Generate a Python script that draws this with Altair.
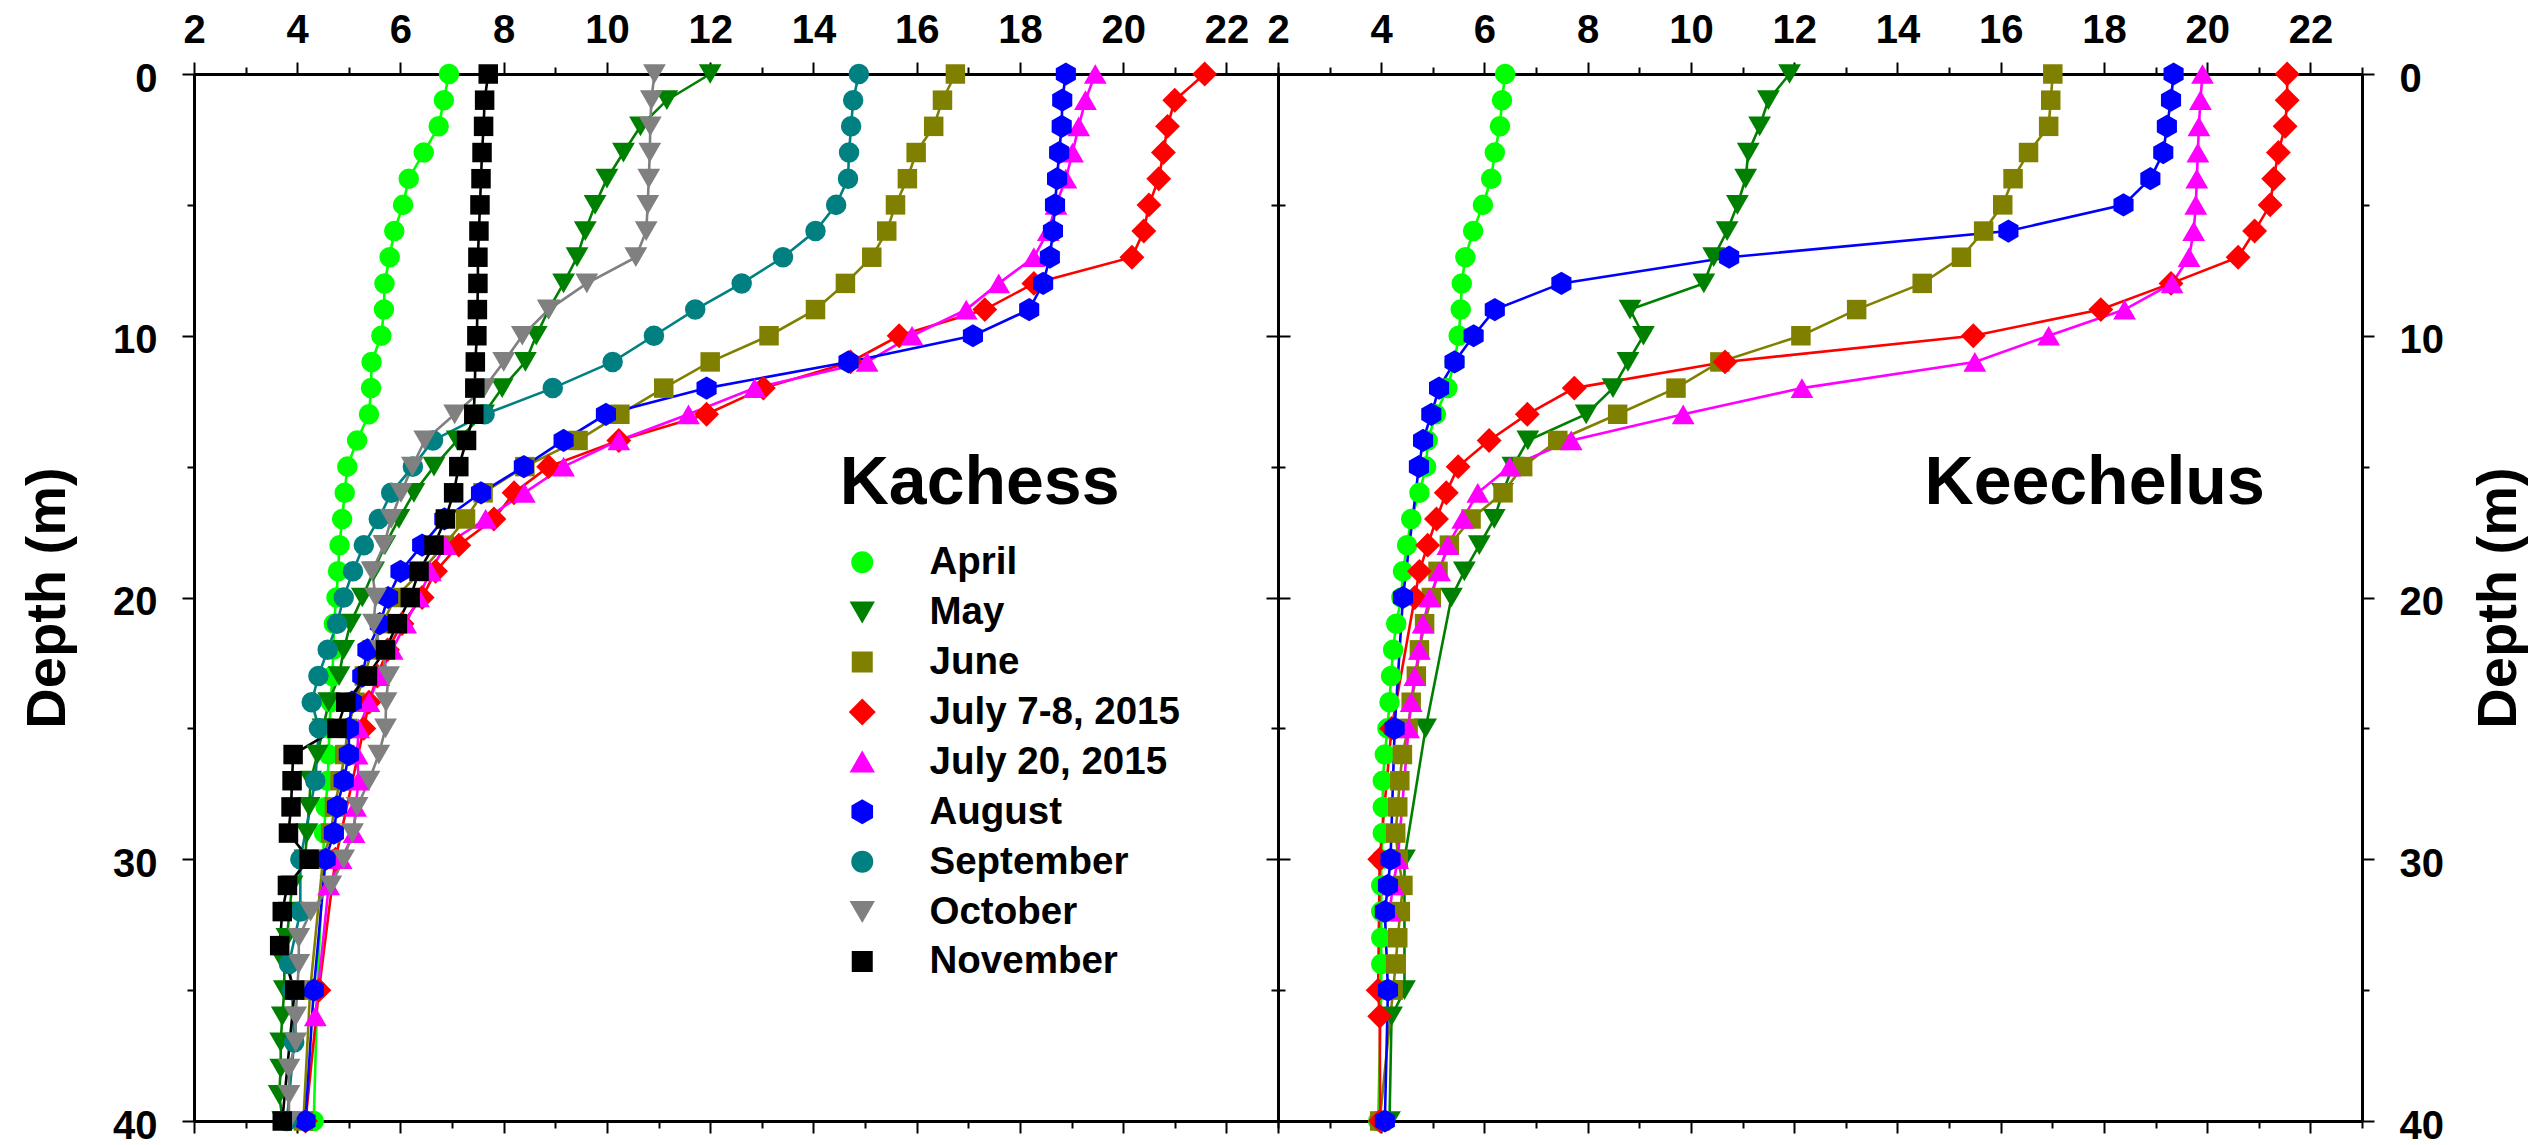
import altair as alt
import pandas as pd

FONT = "Liberation Sans"

SERIES = ["April", "May", "June", "July 7-8, 2015", "July 20, 2015",
          "August", "September", "October", "November"]
COLORS = ["#00ff00", "#008000", "#808000", "#ff0000", "#ff00ff",
          "#0000ff", "#008080", "#808080", "#000000"]
HEX = "M0,-1L0.866,-0.5L0.866,0.5L0,1L-0.866,0.5L-0.866,-0.5Z"
SHAPES = ["circle", "triangle-down", "square", "diamond", "triangle-up",
          HEX, "circle", "triangle-down", "square"]
SIZES = [420, 520, 380, 620, 520, 540, 420, 520, 380]

# ---------------- Kachess ----------------
KA_APR_D = list(range(0, 31)) + [35, 40]
KA_APR_T = [6.94, 6.84, 6.74, 6.45, 6.16, 6.05, 5.88, 5.79, 5.69, 5.68,
            5.63, 5.44, 5.43, 5.39, 5.16, 4.97, 4.92, 4.87, 4.82, 4.79,
            4.76, 4.71, 4.70, 4.68, 4.65, 4.62, 4.61, 4.59, 4.55, 4.52,
            4.50, 4.39, 4.32]
KA_MAY_D = list(range(0, 41))
KA_MAY_T = [12.0, 11.16, 10.65, 10.32, 10.0, 9.77, 9.58, 9.42, 9.16, 8.87,
            8.63, 8.42, 7.97, 7.61, 7.10, 6.65, 6.26, 5.97, 5.70, 5.48,
            5.26, 5.03, 4.90, 4.81, 4.61, 4.50, 4.39, 4.26, 4.23, 4.19,
            4.15, 3.90, 3.85, 3.80, 3.75, 3.75, 3.71, 3.68, 3.68, 3.65,
            3.72]
KA_JUN_D = list(range(0, 31)) + [35, 40]
KA_JUN_T = [16.75, 16.50, 16.33, 15.99, 15.82, 15.59, 15.42, 15.13, 14.62, 14.04,
            13.14, 12.00, 11.10, 10.25, 9.44, 8.41, 7.60, 7.26, 6.85, 6.40,
            5.90, 5.65, 5.45, 5.30, 5.12, 4.98, 4.92, 4.83, 4.72, 4.65,
            4.50, 4.25, 4.12]
KA_JL8_D = list(range(0, 26)) + [30, 35, 40]
KA_JL8_T = [21.58, 21.00, 20.86, 20.78, 20.69, 20.50, 20.40, 20.17, 18.27, 17.32,
            15.66, 14.72, 13.03, 11.93, 10.23, 8.87, 8.20, 7.81, 7.13, 6.68,
            6.42, 6.03, 5.75, 5.55, 5.39, 5.29,
            4.74, 4.42, 4.16]
KA_JL20_D = list(range(0, 32)) + [36]
KA_JL20_T = [19.46, 19.27, 19.14, 19.02, 18.89, 18.70, 18.55, 18.27, 17.59, 16.96,
             15.91, 15.04, 12.86, 11.58, 10.23, 9.16, 8.40, 7.65, 6.87, 6.58,
             6.35, 6.10, 5.84, 5.58, 5.39, 5.19, 5.16, 5.19, 5.13, 5.10,
             4.85, 4.61, 4.35]
KA_AUG_D = list(range(0, 31)) + [35, 40]
KA_AUG_T = [18.89, 18.82, 18.81, 18.76, 18.72, 18.68, 18.64, 18.58, 18.45, 18.18,
            17.09, 14.68, 11.93, 9.98, 9.16, 8.39, 7.56, 6.85, 6.42, 6.00,
            5.76, 5.60, 5.36, 5.26, 5.06, 5.00, 5.00, 4.90, 4.77, 4.71,
            4.55, 4.32, 4.16]
KA_SEP_D = list(range(0, 26)) + [27, 30, 32, 34, 35, 37, 40]
KA_SEP_T = [14.88, 14.77, 14.73, 14.69, 14.67, 14.44, 14.04, 13.41, 12.61, 11.71,
            10.91, 10.11, 8.95, 7.63, 6.63, 6.24, 5.82, 5.58, 5.29, 5.08,
            4.90, 4.77, 4.59, 4.41, 4.28, 4.42,
            4.35, 4.06, 4.06, 3.84, 3.90, 3.94, 3.80]
KA_OCT_D = list(range(0, 41))
KA_OCT_T = [10.92, 10.86, 10.84, 10.83, 10.81, 10.79, 10.76, 10.56, 9.61, 8.87,
            8.36, 8.00, 7.62, 7.05, 6.47, 6.23, 6.01, 5.82, 5.68, 5.45,
            5.52, 5.48, 5.62, 5.77, 5.72, 5.71, 5.58, 5.39, 5.16, 5.07,
            4.90, 4.65, 4.26, 4.03, 4.03, 4.00, 3.97, 3.97, 3.84, 3.84,
            3.84]
KA_NOV_D = list(range(0, 33)) + [33.3, 35, 40]
KA_NOV_T = [7.70, 7.63, 7.61, 7.58, 7.56, 7.54, 7.52, 7.50, 7.50, 7.49,
            7.48, 7.45, 7.44, 7.42, 7.28, 7.13, 7.03, 6.87, 6.65, 6.36,
            6.19, 5.94, 5.71, 5.36, 4.94, 4.77, 3.92, 3.90, 3.88, 3.83,
            4.23, 3.81, 3.71, 3.66, 3.95, 3.71]

# ---------------- Keechelus ----------------
KE_APR_D = list(range(0, 36)) + [40]
KE_APR_T = [6.40, 6.34, 6.30, 6.20, 6.13, 5.97, 5.78, 5.63, 5.56, 5.54,
            5.50, 5.42, 5.28, 5.06, 4.90, 4.87, 4.74, 4.58, 4.50, 4.42,
            4.39, 4.29, 4.23, 4.19, 4.16, 4.12, 4.07, 4.03, 4.03, 4.03,
            4.00, 4.00, 4.00, 4.00, 4.00, 4.00, 3.94]
KE_MAY_D = list(range(0, 21)) + [25, 30, 35, 36, 40]
KE_MAY_T = [11.91, 11.50, 11.33, 11.11, 11.06, 10.90, 10.70, 10.44, 10.25, 8.82,
            9.08, 8.78, 8.49, 7.97, 6.84, 6.55, 6.35, 6.19, 5.90, 5.61,
            5.36, 4.86, 4.45, 4.45, 4.20, 4.16]
KE_JUN_D = list(range(0, 36)) + [40]
KE_JUN_T = [17.01, 16.97, 16.93, 16.54, 16.24, 16.04, 15.67, 15.24, 14.48, 13.21,
            12.13, 10.56, 9.71, 8.58, 7.42, 6.74, 6.36, 5.74, 5.32, 5.10,
            4.97, 4.84, 4.74, 4.68, 4.58, 4.52, 4.41, 4.36, 4.32, 4.28,
            4.33, 4.42, 4.37, 4.32, 4.28, 4.23, 3.97]
KE_JL8_D = list(range(0, 21)) + [25, 30, 35, 36, 40]
KE_JL8_T = [21.55, 21.55, 21.51, 21.38, 21.29, 21.22, 20.92, 20.60, 19.30, 17.94,
            15.47, 10.66, 7.74, 6.83, 6.09, 5.49, 5.26, 5.07, 4.90, 4.74,
            4.65, 4.20, 3.97, 3.94, 3.97, 3.98]
KE_JL20_D = list(range(0, 26)) + [30, 31, 32]
KE_JL20_T = [19.91, 19.87, 19.84, 19.82, 19.80, 19.78, 19.74, 19.65, 19.32, 18.40,
             16.93, 15.50, 12.15, 9.85, 7.68, 6.49, 5.87, 5.58, 5.29, 5.13,
             4.94, 4.81, 4.74, 4.65, 4.58, 4.53, 4.32, 4.23, 4.16]
KE_AUG_D = list(range(0, 16)) + [20, 25, 30, 31, 32, 35, 40]
KE_AUG_T = [19.35, 19.30, 19.22, 19.15, 18.90, 18.38, 16.15, 10.74, 7.49, 6.20,
            5.79, 5.42, 5.12, 4.97, 4.81, 4.73,
            4.42, 4.26, 4.18, 4.13, 4.07, 4.13, 4.07]

KACHESS = [("April", KA_APR_D, KA_APR_T), ("May", KA_MAY_D, KA_MAY_T),
           ("June", KA_JUN_D, KA_JUN_T), ("July 7-8, 2015", KA_JL8_D, KA_JL8_T),
           ("July 20, 2015", KA_JL20_D, KA_JL20_T), ("August", KA_AUG_D, KA_AUG_T),
           ("September", KA_SEP_D, KA_SEP_T), ("October", KA_OCT_D, KA_OCT_T),
           ("November", KA_NOV_D, KA_NOV_T)]
KEECHELUS = [("April", KE_APR_D, KE_APR_T), ("May", KE_MAY_D, KE_MAY_T),
             ("June", KE_JUN_D, KE_JUN_T), ("July 7-8, 2015", KE_JL8_D, KE_JL8_T),
             ("July 20, 2015", KE_JL20_D, KE_JL20_T), ("August", KE_AUG_D, KE_AUG_T)]


def build(series_list):
    rows = []
    for name, ds, ts in series_list:
        for i, (d, t) in enumerate(zip(ds, ts)):
            rows.append({"series": name, "depth": d, "temp": t, "idx": i})
    return pd.DataFrame(rows)


W, H = 1084, 1047
XS = alt.Scale(domain=[2, 23], nice=False, zero=False)
YS = alt.Scale(domain=[0, 40], reverse=True, nice=False, zero=False)
X_VALUES = list(range(2, 24))
Y_VALUES = list(range(0, 41, 5))
X_TICK = {"condition": {"test": "datum.value % 2 === 0", "value": 12}, "value": 7}
Y_TICK = {"condition": {"test": "datum.value % 10 === 0", "value": 12}, "value": 7}

COMMON = dict(grid=False, domainWidth=3, tickWidth=2, labelFlush=False,
              labelOverlap=False, labelFont=FONT, labelFontSize=40,
              labelFontWeight="bold", titleFont=FONT, titleFontWeight="bold")


def x_top():
    return alt.Axis(orient="top", values=X_VALUES, tickSize=X_TICK,
                    labelExpr="datum.value % 2 === 0 ? datum.label : ''",
                    labelPadding=12, title=None, **COMMON)


def x_bottom():
    return alt.Axis(orient="bottom", values=X_VALUES, tickSize=X_TICK,
                    labels=False, title=None, **COMMON)


def y_axis(orient, labelled):
    if labelled:
        extra = dict(title="Depth (m)", titleFontSize=56)
        if orient == "right":
            extra.update(titleAngle=270, titleBaseline="top", titlePadding=28)
        else:
            extra.update(titlePadding=36)
        return alt.Axis(orient=orient, values=Y_VALUES, tickSize=Y_TICK,
                        labelExpr="datum.value % 10 === 0 ? datum.label : ''",
                        labelPadding=25, labelOffset=5, **extra, **COMMON)
    return alt.Axis(orient=orient, values=Y_VALUES, tickSize=Y_TICK,
                    labels=False, title=None, **COMMON)


LEGEND = alt.Legend(title=None, orient="none", legendX=649, legendY=469,
                    labelFont=FONT, labelFontSize=38.5, labelFontWeight="bold",
                    labelColor="black", labelOffset=48, rowPadding=10.9,
                    padding=0, labelLimit=600, symbolOpacity=1)

CSCALE = alt.Scale(domain=SERIES, range=COLORS)
SSCALE = alt.Scale(domain=SERIES, range=SHAPES)
ZSCALE = alt.Scale(type="ordinal", domain=SERIES, range=SIZES)


def panel(series_list, lake, lx, ly, left_labels, show_legend):
    df = build(series_list)
    base = alt.Chart(df)
    leg = LEGEND if show_legend else None
    lines = base.mark_line(strokeWidth=2.6).encode(
        x=alt.X("temp:Q", scale=XS, axis=x_top()),
        y=alt.Y("depth:Q", scale=YS, axis=y_axis("left", left_labels)),
        color=alt.Color("series:N", scale=CSCALE, legend=leg),
        order=alt.Order("idx:Q"),
    )
    pts = base.mark_point(filled=True, opacity=1, strokeWidth=0).encode(
        x=alt.X("temp:Q", scale=XS, axis=x_bottom()),
        y=alt.Y("depth:Q", scale=YS, axis=y_axis("right", not left_labels)),
        color=alt.Color("series:N", scale=CSCALE, legend=leg),
        shape=alt.Shape("series:N", scale=SSCALE, legend=leg),
        size=alt.Size("series:N", scale=ZSCALE, legend=leg),
    )
    label = alt.Chart(pd.DataFrame({"t": [lx], "d": [ly], "name": [lake]})).mark_text(
        font=FONT, fontSize=68, fontWeight="bold", align="center",
        baseline="alphabetic", color="black"
    ).encode(
        x=alt.X("t:Q", scale=XS, axis=None),
        y=alt.Y("d:Q", scale=YS, axis=None),
        text="name:N",
    )
    return alt.layer(lines, pts, label).resolve_axis(
        x="independent", y="independent").properties(width=W, height=H)


left = panel(KACHESS, "Kachess", 17.22, 16.41, True, True)
right = panel(KEECHELUS, "Keechelus", 17.82, 16.41, False, True)

chart = alt.hconcat(left, right, spacing=0, bounds="flush").properties(
    padding={"left": 11, "top": 2, "right": 5, "bottom": 5}
).configure_view(stroke=None).configure_axis(
    domainColor="black", tickColor="black", labelColor="black", titleColor="black"
)

chart.save("out.html", embed_options={"renderer": "svg", "actions": False})
